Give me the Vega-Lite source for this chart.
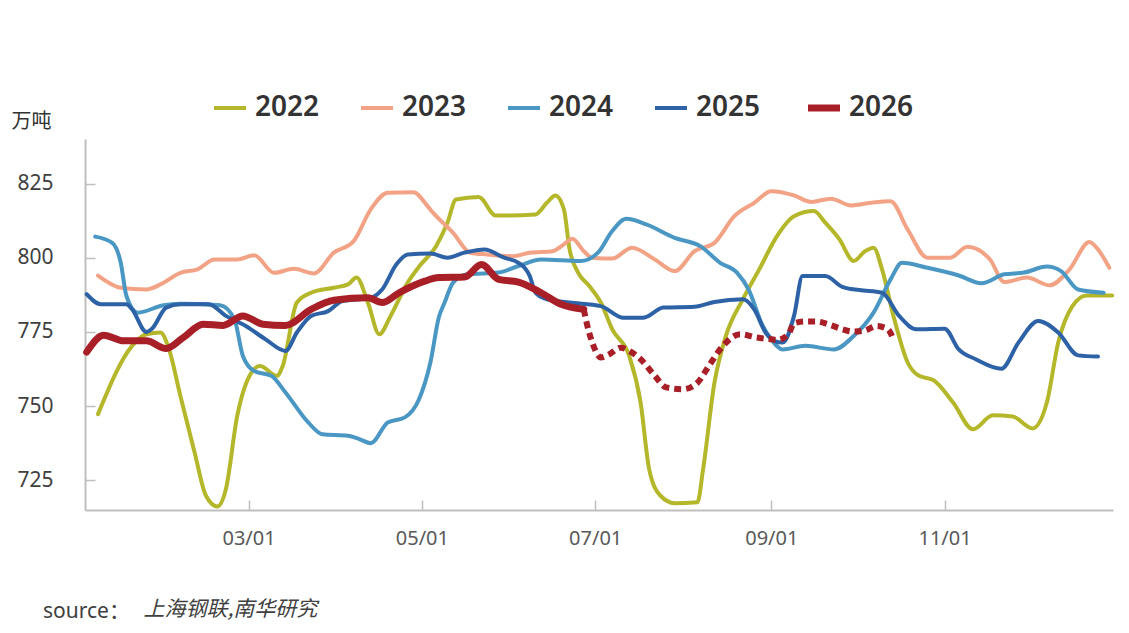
{
  "$schema": "https://vega.github.io/schema/vega-lite/v6.json",
  "width": 1028,
  "height": 371,
  "autosize": {"type": "none"},
  "padding": {"left": 85, "top": 139, "right": 16, "bottom": 123},
  "background": "white",
  "config": {
    "view": {"stroke": null},
    "font": "'Noto Sans', 'Noto Sans CJK SC', sans-serif"
  },
  "title": {
    "text": "source：",
    "orient": "bottom",
    "anchor": "start",
    "frame": "group",
    "dx": -42,
    "dy": -22,
    "fontSize": 21,
    "fontWeight": "normal",
    "color": "#404040"
  },
  "data": {
    "values": [
      {"date": "2026-01-07", "value": 747.3, "year": "2022", "seg": "solid"},
      {"date": "2026-01-19", "value": 770.3, "year": "2022", "seg": "solid"},
      {"date": "2026-01-24", "value": 774.2, "year": "2022", "seg": "solid"},
      {"date": "2026-01-29", "value": 774.8, "year": "2022", "seg": "solid"},
      {"date": "2026-02-01", "value": 769.1, "year": "2022", "seg": "solid"},
      {"date": "2026-02-05", "value": 753.4, "year": "2022", "seg": "solid"},
      {"date": "2026-02-10", "value": 734.4, "year": "2022", "seg": "solid"},
      {"date": "2026-02-14", "value": 719.8, "year": "2022", "seg": "solid"},
      {"date": "2026-02-18", "value": 716.2, "year": "2022", "seg": "solid"},
      {"date": "2026-02-21", "value": 722.0, "year": "2022", "seg": "solid"},
      {"date": "2026-02-25", "value": 746.7, "year": "2022", "seg": "solid"},
      {"date": "2026-03-02", "value": 761.3, "year": "2022", "seg": "solid"},
      {"date": "2026-03-05", "value": 763.5, "year": "2022", "seg": "solid"},
      {"date": "2026-03-11", "value": 760.2, "year": "2022", "seg": "solid"},
      {"date": "2026-03-13", "value": 763.5, "year": "2022", "seg": "solid"},
      {"date": "2026-03-18", "value": 784.9, "year": "2022", "seg": "solid"},
      {"date": "2026-03-23", "value": 788.2, "year": "2022", "seg": "solid"},
      {"date": "2026-03-31", "value": 789.9, "year": "2022", "seg": "solid"},
      {"date": "2026-04-05", "value": 791.0, "year": "2022", "seg": "solid"},
      {"date": "2026-04-08", "value": 793.3, "year": "2022", "seg": "solid"},
      {"date": "2026-04-12", "value": 784.9, "year": "2022", "seg": "solid"},
      {"date": "2026-04-16", "value": 774.2, "year": "2022", "seg": "solid"},
      {"date": "2026-04-20", "value": 780.4, "year": "2022", "seg": "solid"},
      {"date": "2026-04-26", "value": 791.6, "year": "2022", "seg": "solid"},
      {"date": "2026-04-30", "value": 797.0, "year": "2022", "seg": "solid"},
      {"date": "2026-05-06", "value": 803.9, "year": "2022", "seg": "solid"},
      {"date": "2026-05-10", "value": 811.8, "year": "2022", "seg": "solid"},
      {"date": "2026-05-13", "value": 819.6, "year": "2022", "seg": "solid"},
      {"date": "2026-05-21", "value": 820.5, "year": "2022", "seg": "solid"},
      {"date": "2026-05-27", "value": 814.2, "year": "2022", "seg": "solid"},
      {"date": "2026-06-10", "value": 814.6, "year": "2022", "seg": "solid"},
      {"date": "2026-06-14", "value": 818.5, "year": "2022", "seg": "solid"},
      {"date": "2026-06-17", "value": 821.0, "year": "2022", "seg": "solid"},
      {"date": "2026-06-20", "value": 816.3, "year": "2022", "seg": "solid"},
      {"date": "2026-06-22", "value": 802.8, "year": "2022", "seg": "solid"},
      {"date": "2026-06-25", "value": 795.0, "year": "2022", "seg": "solid"},
      {"date": "2026-06-29", "value": 790.4, "year": "2022", "seg": "solid"},
      {"date": "2026-07-03", "value": 784.9, "year": "2022", "seg": "solid"},
      {"date": "2026-07-07", "value": 775.9, "year": "2022", "seg": "solid"},
      {"date": "2026-07-13", "value": 766.9, "year": "2022", "seg": "solid"},
      {"date": "2026-07-17", "value": 751.2, "year": "2022", "seg": "solid"},
      {"date": "2026-07-20", "value": 728.8, "year": "2022", "seg": "solid"},
      {"date": "2026-07-24", "value": 719.8, "year": "2022", "seg": "solid"},
      {"date": "2026-07-29", "value": 717.3, "year": "2022", "seg": "solid"},
      {"date": "2026-08-06", "value": 717.6, "year": "2022", "seg": "solid"},
      {"date": "2026-08-08", "value": 728.8, "year": "2022", "seg": "solid"},
      {"date": "2026-08-12", "value": 757.9, "year": "2022", "seg": "solid"},
      {"date": "2026-08-16", "value": 773.6, "year": "2022", "seg": "solid"},
      {"date": "2026-08-22", "value": 786.0, "year": "2022", "seg": "solid"},
      {"date": "2026-08-28", "value": 796.5, "year": "2022", "seg": "solid"},
      {"date": "2026-09-03", "value": 807.3, "year": "2022", "seg": "solid"},
      {"date": "2026-09-09", "value": 814.0, "year": "2022", "seg": "solid"},
      {"date": "2026-09-16", "value": 815.7, "year": "2022", "seg": "solid"},
      {"date": "2026-09-20", "value": 811.8, "year": "2022", "seg": "solid"},
      {"date": "2026-09-25", "value": 806.2, "year": "2022", "seg": "solid"},
      {"date": "2026-09-30", "value": 798.9, "year": "2022", "seg": "solid"},
      {"date": "2026-10-04", "value": 802.2, "year": "2022", "seg": "solid"},
      {"date": "2026-10-07", "value": 803.4, "year": "2022", "seg": "solid"},
      {"date": "2026-10-10", "value": 796.1, "year": "2022", "seg": "solid"},
      {"date": "2026-10-14", "value": 780.4, "year": "2022", "seg": "solid"},
      {"date": "2026-10-19", "value": 764.7, "year": "2022", "seg": "solid"},
      {"date": "2026-10-23", "value": 760.2, "year": "2022", "seg": "solid"},
      {"date": "2026-10-28", "value": 758.8, "year": "2022", "seg": "solid"},
      {"date": "2026-11-04", "value": 751.2, "year": "2022", "seg": "solid"},
      {"date": "2026-11-11", "value": 742.2, "year": "2022", "seg": "solid"},
      {"date": "2026-11-18", "value": 746.9, "year": "2022", "seg": "solid"},
      {"date": "2026-11-25", "value": 746.5, "year": "2022", "seg": "solid"},
      {"date": "2026-12-02", "value": 742.5, "year": "2022", "seg": "solid"},
      {"date": "2026-12-07", "value": 751.2, "year": "2022", "seg": "solid"},
      {"date": "2026-12-11", "value": 771.4, "year": "2022", "seg": "solid"},
      {"date": "2026-12-16", "value": 783.7, "year": "2022", "seg": "solid"},
      {"date": "2026-12-21", "value": 787.3, "year": "2022", "seg": "solid"},
      {"date": "2026-12-30", "value": 787.3, "year": "2022", "seg": "solid"},

      {"date": "2026-01-07", "value": 794.0, "year": "2023", "seg": "solid"},
      {"date": "2026-01-15", "value": 789.9, "year": "2023", "seg": "solid"},
      {"date": "2026-01-24", "value": 789.3, "year": "2023", "seg": "solid"},
      {"date": "2026-01-29", "value": 791.0, "year": "2023", "seg": "solid"},
      {"date": "2026-02-05", "value": 794.9, "year": "2023", "seg": "solid"},
      {"date": "2026-02-11", "value": 796.1, "year": "2023", "seg": "solid"},
      {"date": "2026-02-17", "value": 799.4, "year": "2023", "seg": "solid"},
      {"date": "2026-02-25", "value": 799.4, "year": "2023", "seg": "solid"},
      {"date": "2026-03-03", "value": 800.8, "year": "2023", "seg": "solid"},
      {"date": "2026-03-10", "value": 794.9, "year": "2023", "seg": "solid"},
      {"date": "2026-03-17", "value": 796.3, "year": "2023", "seg": "solid"},
      {"date": "2026-03-24", "value": 794.7, "year": "2023", "seg": "solid"},
      {"date": "2026-03-31", "value": 801.7, "year": "2023", "seg": "solid"},
      {"date": "2026-04-07", "value": 805.6, "year": "2023", "seg": "solid"},
      {"date": "2026-04-13", "value": 816.3, "year": "2023", "seg": "solid"},
      {"date": "2026-04-19", "value": 821.9, "year": "2023", "seg": "solid"},
      {"date": "2026-04-28", "value": 822.1, "year": "2023", "seg": "solid"},
      {"date": "2026-05-03", "value": 817.4, "year": "2023", "seg": "solid"},
      {"date": "2026-05-05", "value": 815.1, "year": "2023", "seg": "solid"},
      {"date": "2026-05-12", "value": 808.4, "year": "2023", "seg": "solid"},
      {"date": "2026-05-18", "value": 801.7, "year": "2023", "seg": "solid"},
      {"date": "2026-05-24", "value": 801.1, "year": "2023", "seg": "solid"},
      {"date": "2026-06-02", "value": 800.5, "year": "2023", "seg": "solid"},
      {"date": "2026-06-08", "value": 801.7, "year": "2023", "seg": "solid"},
      {"date": "2026-06-16", "value": 802.2, "year": "2023", "seg": "solid"},
      {"date": "2026-06-20", "value": 804.5, "year": "2023", "seg": "solid"},
      {"date": "2026-06-23", "value": 806.4, "year": "2023", "seg": "solid"},
      {"date": "2026-06-27", "value": 802.2, "year": "2023", "seg": "solid"},
      {"date": "2026-06-30", "value": 800.0, "year": "2023", "seg": "solid"},
      {"date": "2026-07-07", "value": 799.7, "year": "2023", "seg": "solid"},
      {"date": "2026-07-14", "value": 803.4, "year": "2023", "seg": "solid"},
      {"date": "2026-07-22", "value": 799.4, "year": "2023", "seg": "solid"},
      {"date": "2026-07-29", "value": 795.5, "year": "2023", "seg": "solid"},
      {"date": "2026-08-05", "value": 802.2, "year": "2023", "seg": "solid"},
      {"date": "2026-08-12", "value": 805.0, "year": "2023", "seg": "solid"},
      {"date": "2026-08-19", "value": 814.0, "year": "2023", "seg": "solid"},
      {"date": "2026-08-26", "value": 818.5, "year": "2023", "seg": "solid"},
      {"date": "2026-09-01", "value": 822.4, "year": "2023", "seg": "solid"},
      {"date": "2026-09-09", "value": 821.0, "year": "2023", "seg": "solid"},
      {"date": "2026-09-15", "value": 818.8, "year": "2023", "seg": "solid"},
      {"date": "2026-09-22", "value": 819.9, "year": "2023", "seg": "solid"},
      {"date": "2026-09-29", "value": 817.6, "year": "2023", "seg": "solid"},
      {"date": "2026-10-06", "value": 818.5, "year": "2023", "seg": "solid"},
      {"date": "2026-10-13", "value": 819.0, "year": "2023", "seg": "solid"},
      {"date": "2026-10-19", "value": 809.5, "year": "2023", "seg": "solid"},
      {"date": "2026-10-26", "value": 800.0, "year": "2023", "seg": "solid"},
      {"date": "2026-11-03", "value": 800.0, "year": "2023", "seg": "solid"},
      {"date": "2026-11-09", "value": 803.7, "year": "2023", "seg": "solid"},
      {"date": "2026-11-17", "value": 799.4, "year": "2023", "seg": "solid"},
      {"date": "2026-11-22", "value": 791.8, "year": "2023", "seg": "solid"},
      {"date": "2026-11-30", "value": 793.3, "year": "2023", "seg": "solid"},
      {"date": "2026-12-08", "value": 790.7, "year": "2023", "seg": "solid"},
      {"date": "2026-12-15", "value": 796.1, "year": "2023", "seg": "solid"},
      {"date": "2026-12-22", "value": 805.3, "year": "2023", "seg": "solid"},
      {"date": "2026-12-25", "value": 802.8, "year": "2023", "seg": "solid"},
      {"date": "2026-12-29", "value": 796.6, "year": "2023", "seg": "solid"},

      {"date": "2026-01-06", "value": 807.1, "year": "2024", "seg": "solid"},
      {"date": "2026-01-12", "value": 805.0, "year": "2024", "seg": "solid"},
      {"date": "2026-01-15", "value": 798.3, "year": "2024", "seg": "solid"},
      {"date": "2026-01-17", "value": 787.1, "year": "2024", "seg": "solid"},
      {"date": "2026-01-21", "value": 781.5, "year": "2024", "seg": "solid"},
      {"date": "2026-01-30", "value": 784.0, "year": "2024", "seg": "solid"},
      {"date": "2026-02-05", "value": 784.5, "year": "2024", "seg": "solid"},
      {"date": "2026-02-19", "value": 784.0, "year": "2024", "seg": "solid"},
      {"date": "2026-02-24", "value": 779.3, "year": "2024", "seg": "solid"},
      {"date": "2026-02-27", "value": 766.9, "year": "2024", "seg": "solid"},
      {"date": "2026-03-03", "value": 761.8, "year": "2024", "seg": "solid"},
      {"date": "2026-03-09", "value": 760.2, "year": "2024", "seg": "solid"},
      {"date": "2026-03-14", "value": 754.6, "year": "2024", "seg": "solid"},
      {"date": "2026-03-22", "value": 744.5, "year": "2024", "seg": "solid"},
      {"date": "2026-03-27", "value": 740.5, "year": "2024", "seg": "solid"},
      {"date": "2026-04-05", "value": 740.0, "year": "2024", "seg": "solid"},
      {"date": "2026-04-09", "value": 738.9, "year": "2024", "seg": "solid"},
      {"date": "2026-04-13", "value": 737.5, "year": "2024", "seg": "solid"},
      {"date": "2026-04-19", "value": 744.5, "year": "2024", "seg": "solid"},
      {"date": "2026-04-25", "value": 746.2, "year": "2024", "seg": "solid"},
      {"date": "2026-04-30", "value": 752.3, "year": "2024", "seg": "solid"},
      {"date": "2026-05-04", "value": 764.7, "year": "2024", "seg": "solid"},
      {"date": "2026-05-07", "value": 780.0, "year": "2024", "seg": "solid"},
      {"date": "2026-05-09", "value": 784.9, "year": "2024", "seg": "solid"},
      {"date": "2026-05-12", "value": 791.6, "year": "2024", "seg": "solid"},
      {"date": "2026-05-17", "value": 794.4, "year": "2024", "seg": "solid"},
      {"date": "2026-05-28", "value": 795.0, "year": "2024", "seg": "solid"},
      {"date": "2026-06-04", "value": 797.2, "year": "2024", "seg": "solid"},
      {"date": "2026-06-12", "value": 799.4, "year": "2024", "seg": "solid"},
      {"date": "2026-06-26", "value": 798.9, "year": "2024", "seg": "solid"},
      {"date": "2026-07-02", "value": 801.7, "year": "2024", "seg": "solid"},
      {"date": "2026-07-07", "value": 809.0, "year": "2024", "seg": "solid"},
      {"date": "2026-07-12", "value": 813.1, "year": "2024", "seg": "solid"},
      {"date": "2026-07-19", "value": 811.2, "year": "2024", "seg": "solid"},
      {"date": "2026-07-29", "value": 806.7, "year": "2024", "seg": "solid"},
      {"date": "2026-08-07", "value": 803.9, "year": "2024", "seg": "solid"},
      {"date": "2026-08-14", "value": 798.3, "year": "2024", "seg": "solid"},
      {"date": "2026-08-20", "value": 794.9, "year": "2024", "seg": "solid"},
      {"date": "2026-08-24", "value": 789.3, "year": "2024", "seg": "solid"},
      {"date": "2026-08-29", "value": 777.0, "year": "2024", "seg": "solid"},
      {"date": "2026-09-01", "value": 772.5, "year": "2024", "seg": "solid"},
      {"date": "2026-09-05", "value": 769.1, "year": "2024", "seg": "solid"},
      {"date": "2026-09-13", "value": 770.3, "year": "2024", "seg": "solid"},
      {"date": "2026-09-23", "value": 769.1, "year": "2024", "seg": "solid"},
      {"date": "2026-09-30", "value": 773.6, "year": "2024", "seg": "solid"},
      {"date": "2026-10-07", "value": 781.5, "year": "2024", "seg": "solid"},
      {"date": "2026-10-13", "value": 792.7, "year": "2024", "seg": "solid"},
      {"date": "2026-10-17", "value": 798.3, "year": "2024", "seg": "solid"},
      {"date": "2026-10-26", "value": 796.6, "year": "2024", "seg": "solid"},
      {"date": "2026-11-06", "value": 794.0, "year": "2024", "seg": "solid"},
      {"date": "2026-11-14", "value": 791.4, "year": "2024", "seg": "solid"},
      {"date": "2026-11-22", "value": 794.4, "year": "2024", "seg": "solid"},
      {"date": "2026-11-29", "value": 795.0, "year": "2024", "seg": "solid"},
      {"date": "2026-12-07", "value": 797.0, "year": "2024", "seg": "solid"},
      {"date": "2026-12-12", "value": 795.5, "year": "2024", "seg": "solid"},
      {"date": "2026-12-18", "value": 789.3, "year": "2024", "seg": "solid"},
      {"date": "2026-12-27", "value": 788.2, "year": "2024", "seg": "solid"},

      {"date": "2026-01-03", "value": 787.7, "year": "2025", "seg": "solid"},
      {"date": "2026-01-08", "value": 784.3, "year": "2025", "seg": "solid"},
      {"date": "2026-01-17", "value": 784.3, "year": "2025", "seg": "solid"},
      {"date": "2026-01-19", "value": 782.6, "year": "2025", "seg": "solid"},
      {"date": "2026-01-24", "value": 775.0, "year": "2025", "seg": "solid"},
      {"date": "2026-01-26", "value": 776.1, "year": "2025", "seg": "solid"},
      {"date": "2026-01-31", "value": 783.2, "year": "2025", "seg": "solid"},
      {"date": "2026-02-05", "value": 784.3, "year": "2025", "seg": "solid"},
      {"date": "2026-02-15", "value": 784.3, "year": "2025", "seg": "solid"},
      {"date": "2026-02-21", "value": 780.4, "year": "2025", "seg": "solid"},
      {"date": "2026-02-28", "value": 777.0, "year": "2025", "seg": "solid"},
      {"date": "2026-03-07", "value": 772.5, "year": "2025", "seg": "solid"},
      {"date": "2026-03-14", "value": 768.6, "year": "2025", "seg": "solid"},
      {"date": "2026-03-18", "value": 774.8, "year": "2025", "seg": "solid"},
      {"date": "2026-03-23", "value": 780.4, "year": "2025", "seg": "solid"},
      {"date": "2026-03-29", "value": 782.0, "year": "2025", "seg": "solid"},
      {"date": "2026-04-03", "value": 785.4, "year": "2025", "seg": "solid"},
      {"date": "2026-04-13", "value": 786.5, "year": "2025", "seg": "solid"},
      {"date": "2026-04-17", "value": 789.3, "year": "2025", "seg": "solid"},
      {"date": "2026-04-22", "value": 797.7, "year": "2025", "seg": "solid"},
      {"date": "2026-04-26", "value": 801.1, "year": "2025", "seg": "solid"},
      {"date": "2026-05-04", "value": 801.4, "year": "2025", "seg": "solid"},
      {"date": "2026-05-10", "value": 800.0, "year": "2025", "seg": "solid"},
      {"date": "2026-05-16", "value": 801.7, "year": "2025", "seg": "solid"},
      {"date": "2026-05-23", "value": 802.8, "year": "2025", "seg": "solid"},
      {"date": "2026-05-30", "value": 800.0, "year": "2025", "seg": "solid"},
      {"date": "2026-06-04", "value": 798.3, "year": "2025", "seg": "solid"},
      {"date": "2026-06-08", "value": 793.8, "year": "2025", "seg": "solid"},
      {"date": "2026-06-10", "value": 788.2, "year": "2025", "seg": "solid"},
      {"date": "2026-06-14", "value": 786.0, "year": "2025", "seg": "solid"},
      {"date": "2026-06-22", "value": 784.9, "year": "2025", "seg": "solid"},
      {"date": "2026-07-03", "value": 783.7, "year": "2025", "seg": "solid"},
      {"date": "2026-07-11", "value": 779.8, "year": "2025", "seg": "solid"},
      {"date": "2026-07-18", "value": 779.8, "year": "2025", "seg": "solid"},
      {"date": "2026-07-25", "value": 783.2, "year": "2025", "seg": "solid"},
      {"date": "2026-08-05", "value": 783.5, "year": "2025", "seg": "solid"},
      {"date": "2026-08-12", "value": 785.1, "year": "2025", "seg": "solid"},
      {"date": "2026-08-22", "value": 786.0, "year": "2025", "seg": "solid"},
      {"date": "2026-08-26", "value": 782.6, "year": "2025", "seg": "solid"},
      {"date": "2026-08-30", "value": 774.8, "year": "2025", "seg": "solid"},
      {"date": "2026-09-02", "value": 772.0, "year": "2025", "seg": "solid"},
      {"date": "2026-09-05", "value": 771.4, "year": "2025", "seg": "solid"},
      {"date": "2026-09-09", "value": 780.4, "year": "2025", "seg": "solid"},
      {"date": "2026-09-12", "value": 793.8, "year": "2025", "seg": "solid"},
      {"date": "2026-09-20", "value": 793.8, "year": "2025", "seg": "solid"},
      {"date": "2026-09-26", "value": 790.2, "year": "2025", "seg": "solid"},
      {"date": "2026-10-02", "value": 789.1, "year": "2025", "seg": "solid"},
      {"date": "2026-10-10", "value": 788.2, "year": "2025", "seg": "solid"},
      {"date": "2026-10-16", "value": 780.4, "year": "2025", "seg": "solid"},
      {"date": "2026-10-22", "value": 775.9, "year": "2025", "seg": "solid"},
      {"date": "2026-11-01", "value": 776.1, "year": "2025", "seg": "solid"},
      {"date": "2026-11-06", "value": 769.1, "year": "2025", "seg": "solid"},
      {"date": "2026-11-12", "value": 765.8, "year": "2025", "seg": "solid"},
      {"date": "2026-11-21", "value": 762.6, "year": "2025", "seg": "solid"},
      {"date": "2026-11-27", "value": 771.4, "year": "2025", "seg": "solid"},
      {"date": "2026-12-04", "value": 778.7, "year": "2025", "seg": "solid"},
      {"date": "2026-12-11", "value": 774.8, "year": "2025", "seg": "solid"},
      {"date": "2026-12-18", "value": 767.1, "year": "2025", "seg": "solid"},
      {"date": "2026-12-25", "value": 766.7, "year": "2025", "seg": "solid"},

      {"date": "2026-01-03", "value": 768.2, "year": "2026", "seg": "solid"},
      {"date": "2026-01-09", "value": 773.9, "year": "2026", "seg": "solid"},
      {"date": "2026-01-16", "value": 772.0, "year": "2026", "seg": "solid"},
      {"date": "2026-01-24", "value": 772.0, "year": "2026", "seg": "solid"},
      {"date": "2026-01-31", "value": 769.4, "year": "2026", "seg": "solid"},
      {"date": "2026-02-06", "value": 773.1, "year": "2026", "seg": "solid"},
      {"date": "2026-02-13", "value": 777.6, "year": "2026", "seg": "solid"},
      {"date": "2026-02-20", "value": 777.2, "year": "2026", "seg": "solid"},
      {"date": "2026-02-27", "value": 780.4, "year": "2026", "seg": "solid"},
      {"date": "2026-03-06", "value": 777.6, "year": "2026", "seg": "solid"},
      {"date": "2026-03-14", "value": 777.2, "year": "2026", "seg": "solid"},
      {"date": "2026-03-23", "value": 782.6, "year": "2026", "seg": "solid"},
      {"date": "2026-03-31", "value": 785.7, "year": "2026", "seg": "solid"},
      {"date": "2026-04-12", "value": 786.5, "year": "2026", "seg": "solid"},
      {"date": "2026-04-17", "value": 784.9, "year": "2026", "seg": "solid"},
      {"date": "2026-04-23", "value": 788.2, "year": "2026", "seg": "solid"},
      {"date": "2026-05-02", "value": 792.1, "year": "2026", "seg": "solid"},
      {"date": "2026-05-07", "value": 793.3, "year": "2026", "seg": "solid"},
      {"date": "2026-05-16", "value": 793.5, "year": "2026", "seg": "solid"},
      {"date": "2026-05-22", "value": 797.7, "year": "2026", "seg": "solid"},
      {"date": "2026-05-28", "value": 792.7, "year": "2026", "seg": "solid"},
      {"date": "2026-06-04", "value": 791.8, "year": "2026", "seg": "solid"},
      {"date": "2026-06-12", "value": 788.2, "year": "2026", "seg": "solid"},
      {"date": "2026-06-19", "value": 784.3, "year": "2026", "seg": "solid"},
      {"date": "2026-06-27", "value": 782.6, "year": "2026", "seg": "solid"},

      {"date": "2026-06-27", "value": 782.6, "year": "2026", "seg": "dotted"},
      {"date": "2026-06-28", "value": 778.1, "year": "2026", "seg": "dotted"},
      {"date": "2026-06-30", "value": 771.4, "year": "2026", "seg": "dotted"},
      {"date": "2026-07-03", "value": 766.4, "year": "2026", "seg": "dotted"},
      {"date": "2026-07-06", "value": 767.5, "year": "2026", "seg": "dotted"},
      {"date": "2026-07-10", "value": 769.7, "year": "2026", "seg": "dotted"},
      {"date": "2026-07-13", "value": 768.6, "year": "2026", "seg": "dotted"},
      {"date": "2026-07-17", "value": 765.8, "year": "2026", "seg": "dotted"},
      {"date": "2026-07-22", "value": 760.2, "year": "2026", "seg": "dotted"},
      {"date": "2026-07-26", "value": 756.3, "year": "2026", "seg": "dotted"},
      {"date": "2026-08-01", "value": 755.7, "year": "2026", "seg": "dotted"},
      {"date": "2026-08-06", "value": 757.9, "year": "2026", "seg": "dotted"},
      {"date": "2026-08-10", "value": 763.5, "year": "2026", "seg": "dotted"},
      {"date": "2026-08-15", "value": 770.3, "year": "2026", "seg": "dotted"},
      {"date": "2026-08-21", "value": 774.2, "year": "2026", "seg": "dotted"},
      {"date": "2026-08-27", "value": 773.1, "year": "2026", "seg": "dotted"},
      {"date": "2026-09-01", "value": 772.5, "year": "2026", "seg": "dotted"},
      {"date": "2026-09-03", "value": 772.3, "year": "2026", "seg": "dotted"},
      {"date": "2026-09-07", "value": 774.2, "year": "2026", "seg": "dotted"},
      {"date": "2026-09-09", "value": 777.9, "year": "2026", "seg": "dotted"},
      {"date": "2026-09-13", "value": 778.5, "year": "2026", "seg": "dotted"},
      {"date": "2026-09-17", "value": 778.5, "year": "2026", "seg": "dotted"},
      {"date": "2026-09-21", "value": 777.6, "year": "2026", "seg": "dotted"},
      {"date": "2026-09-26", "value": 775.9, "year": "2026", "seg": "dotted"},
      {"date": "2026-09-30", "value": 775.1, "year": "2026", "seg": "dotted"},
      {"date": "2026-10-04", "value": 775.5, "year": "2026", "seg": "dotted"},
      {"date": "2026-10-08", "value": 777.0, "year": "2026", "seg": "dotted"},
      {"date": "2026-10-12", "value": 775.9, "year": "2026", "seg": "dotted"},
      {"date": "2026-10-14", "value": 772.5, "year": "2026", "seg": "dotted"}
    ]
  },
  "encoding": {
    "x": {
      "field": "date",
      "type": "temporal",
      "scale": {
        "type": "utc",
        "domain": [
          {"year": 2026, "month": 1, "date": 2, "hours": 10, "utc": true},
          {"year": 2026, "month": 12, "date": 30, "hours": 7, "utc": true}
        ]
      },
      "axis": {
        "title": "上海钢联,南华研究",
        "titleFont": "'Noto Sans CJK SC', sans-serif",
        "titleFontStyle": "italic",
        "titleFontWeight": "normal",
        "titleFontSize": 21,
        "titleColor": "#404040",
        "titleX": 58,
        "titleY": 105,
        "titleAlign": "left",
        "titleBaseline": "alphabetic",
        "format": "%m/%d",
        "values": [
          {"year": 2026, "month": 3, "date": 1, "utc": true},
          {"year": 2026, "month": 5, "date": 1, "utc": true},
          {"year": 2026, "month": 7, "date": 1, "utc": true},
          {"year": 2026, "month": 9, "date": 1, "utc": true},
          {"year": 2026, "month": 11, "date": 1, "utc": true}
        ],
        "labelFontSize": 20,
        "labelColor": "#595959",
        "labelPadding": 28,
        "labelFlush": false,
        "tickSize": -10,
        "tickColor": "#bfbfbf",
        "tickWidth": 1.5,
        "domainColor": "#bfbfbf",
        "domainWidth": 2,
        "grid": false
      }
    },
    "y": {
      "field": "value",
      "type": "quantitative",
      "scale": {"domain": [715, 840], "nice": false, "zero": false},
      "axis": {
        "title": "万吨",
        "titleAngle": 0,
        "titleX": -74,
        "titleY": -18,
        "titleAlign": "left",
        "titleBaseline": "middle",
        "titleFontSize": 20,
        "titleFontWeight": "normal",
        "titleColor": "#333333",
        "values": [725, 750, 775, 800, 825],
        "labelFontSize": 21,
        "labelColor": "#404040",
        "labelPadding": 42,
        "tickSize": -10,
        "tickColor": "#bfbfbf",
        "tickWidth": 1.5,
        "domainColor": "#bfbfbf",
        "domainWidth": 2,
        "grid": false
      }
    },
    "color": {
      "field": "year",
      "type": "nominal",
      "scale": {
        "domain": ["2022", "2023", "2024", "2025", "2026"],
        "range": ["#b4b72a", "#f2a385", "#4a97c4", "#2e62a6", "#a81f28"]
      },
      "legend": {
        "title": null,
        "orient": "none",
        "legendX": 131,
        "legendY": -45,
        "direction": "horizontal",
        "symbolType": "stroke",
        "symbolSize": 1024,
        "symbolStrokeWidth": 4,
        "labelFontSize": 28,
        "labelFontWeight": 600,
        "labelColor": "#333333",
        "labelOffset": 11,
        "columnPadding": 33,
        "encode": {
          "symbols": {
            "update": {
              "strokeWidth": {"signal": "datum.value === '2026' ? 7 : 4"}
            }
          }
        }
      }
    }
  },
  "layer": [
    {
      "transform": [{"filter": "datum.seg === 'solid' && datum.year !== '2026'"}],
      "mark": {"type": "line", "interpolate": "monotone", "strokeWidth": 4, "strokeCap": "round", "strokeJoin": "round"}
    },
    {
      "transform": [{"filter": "datum.seg === 'solid' && datum.year === '2026'"}],
      "mark": {"type": "line", "interpolate": "monotone", "strokeWidth": 7, "strokeCap": "round", "strokeJoin": "round"}
    },
    {
      "transform": [{"filter": "datum.seg === 'dotted'"}],
      "mark": {"type": "line", "interpolate": "monotone", "strokeDash": [7, 5], "strokeWidth": 6, "strokeCap": "butt"}
    }
  ]
}
